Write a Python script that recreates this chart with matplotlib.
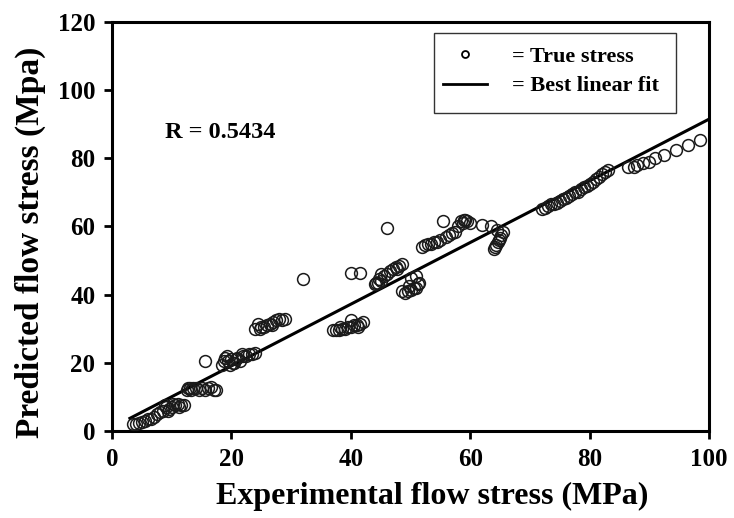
import numpy as np
import matplotlib
matplotlib.use('Agg')
import matplotlib.pyplot as plt
from matplotlib.lines import Line2D
from matplotlib.patches import Rectangle

# experimental vs predicted flow stress (MPa)
exp_stress = [3.5, 4.0, 4.5, 5.0, 5.5, 6.0, 6.5, 7.0, 7.5, 8.0, 8.5, 9.0, 9.5, 10.0, 10.5, 11.0, 11.5, 12.0,
              8.8, 9.3, 10.2, 11.2,
              12.5, 12.8, 13.0, 13.3, 13.5, 14.0, 14.5, 15.0, 15.5, 16.0, 16.5, 17.0, 17.5,
              15.5,
              18.5, 18.8, 19.0, 19.5, 19.8, 20.0, 20.3, 20.5, 21.0, 21.5, 22.0, 22.5, 23.0, 23.5, 24.0,
              19.2, 20.8, 21.8,
              24.0, 24.5, 25.0, 25.5, 26.0, 26.5, 27.0, 27.5, 28.0, 28.5, 29.0, 24.8, 26.8,
              32.0,
              37.0, 37.5, 38.0, 38.5, 39.0, 39.5, 40.0, 40.0, 40.5, 41.0, 41.5, 42.0, 38.2, 41.2,
              40.0, 41.5,
              44.0, 44.3, 44.5, 45.0, 45.0, 45.5, 46.0, 46.5, 47.0, 47.5, 48.0, 48.5, 44.8, 47.8,
              46.0,
              48.5, 49.0, 49.5, 50.0, 50.5, 51.0, 51.5, 50.0, 51.0, 49.8, 51.3,
              52.0, 52.5, 53.0, 53.5, 54.0, 54.5, 55.0, 55.5, 56.0, 56.5, 57.0, 57.5, 58.0, 58.5, 59.0, 59.5, 60.0,
              58.8, 59.2,
              62.0, 63.5, 64.5,
              64.0, 64.2, 64.4, 64.6, 64.8, 65.0, 65.2, 65.5,
              72.0, 72.5, 73.0, 73.5, 74.0, 74.5, 75.0, 75.5, 76.0, 76.5, 77.0, 77.5, 78.0, 78.5, 79.0, 79.5,
              80.0, 80.5, 81.0, 81.5, 82.0, 82.5, 83.0,
              86.5, 87.5, 88.0, 89.0, 90.0, 91.0, 92.5, 94.5, 96.5, 98.5]
pred_stress = [2.0, 2.0, 2.2, 2.5, 3.0, 3.5, 3.5, 4.0, 5.0, 5.5, 6.0, 7.0, 6.5, 7.0, 7.5, 8.0, 7.5, 7.5,
               7.5, 6.0, 8.0, 7.0,
               12.0, 12.5, 12.5, 12.0, 12.5, 12.5, 12.0, 12.5, 12.0, 12.5, 13.0, 12.0, 12.0,
               20.5,
               19.5, 20.5, 21.5, 20.5, 19.5, 21.0, 20.0, 20.0, 21.5, 20.5, 22.0, 22.0, 22.5, 22.5, 23.0,
               22.0, 21.0, 22.5,
               30.0, 31.5, 30.5, 30.5, 31.0, 31.5, 32.0, 32.5, 33.0, 32.5, 33.0, 30.0, 31.0,
               44.5,
               29.5, 29.5, 29.5, 30.0, 30.0, 30.5, 30.5, 32.5, 31.0, 31.0, 31.5, 32.0, 30.5, 30.5,
               46.5, 46.5,
               43.0, 43.5, 43.5, 44.0, 46.0, 45.5, 46.0, 47.0, 47.5, 48.0, 48.5, 49.0, 44.5, 47.5,
               59.5,
               41.0, 40.5, 41.0, 41.5, 42.0, 42.0, 43.5, 45.0, 45.5, 42.5, 43.0,
               54.0, 54.5, 55.0, 55.0, 55.5, 55.5, 56.0, 61.5, 57.0, 57.5, 58.0, 58.5, 60.0, 61.5, 62.0, 61.5, 61.0,
               61.0, 62.0,
               60.5, 60.0, 59.0,
               53.5, 54.0, 54.5, 55.5, 56.0, 56.5, 57.5, 58.5,
               65.0, 65.5, 66.0, 66.5, 66.5, 67.0, 67.5, 68.0, 68.5, 69.0, 69.5, 70.0, 70.0, 71.0, 71.5, 72.0,
               72.5, 73.0, 74.0, 74.5, 75.5, 76.0, 76.5,
               77.5, 77.5, 78.0, 78.5, 79.0, 80.0, 81.0, 82.5, 84.0, 85.5]

# best linear fit
fit_x = [3.0, 100.0]
fit_slope = 0.905
fit_icpt = 1.0

plt.rcParams['font.family'] = ['Liberation Serif', 'DejaVu Serif']
plt.rcParams['font.weight'] = 'bold'

fig = plt.figure(figsize=(7.34, 5.18), dpi=100)
ax = fig.add_axes([0.1526, 0.168, 0.8134, 0.7895])

fx = np.array(fit_x)
ax.plot(fx, fit_slope * fx + fit_icpt, color='black', lw=2.2, zorder=2)
ax.plot(exp_stress, pred_stress, 'o', ls='none', mfc='none', mec='#1a1a1a',
        ms=8.5, mew=1.1, zorder=3)

ax.set_xlim(0, 100)
ax.set_ylim(0, 120)
ax.set_xticks(np.arange(0, 101, 20))
ax.set_yticks(np.arange(0, 121, 20))

for s in ax.spines.values():
    s.set_linewidth(2.2)
ax.tick_params(direction='out', length=6, width=2, labelsize=18, pad=6)

ax.set_xlabel('Experimental flow stress (MPa)', fontsize=23, fontweight='bold', labelpad=6)
ax.xaxis.set_label_coords(0.536, -0.125)
ax.set_ylabel('Predicted flow stress (Mpa)', fontsize=24, fontweight='bold')
ax.yaxis.set_label_coords(-0.11, 0.462)

ax.text(8.8, 87.7, 'R = 0.5434', fontsize=17.5, fontweight='bold', va='center')

# legend frame drawn separately (extra space under the entries)
ax.add_patch(Rectangle((0.539, 0.7775), 0.405, 0.1956, transform=ax.transAxes,
                       fill=False, ec='#333333', lw=1.0, zorder=4))
handles = [Line2D([], [], marker='o', ls='none', mfc='none', mec='black', ms=5, mew=1.3),
           Line2D([], [], color='black', lw=2)]
leg = ax.legend(handles, ['= True stress', '= Best linear fit'], loc='upper left',
                bbox_to_anchor=(0.5544, 0.94), borderaxespad=0, borderpad=0, fontsize=16,
                frameon=False, handlelength=2.0, handletextpad=1.1, labelspacing=0.39)

fig.savefig('out.png', dpi=100)
